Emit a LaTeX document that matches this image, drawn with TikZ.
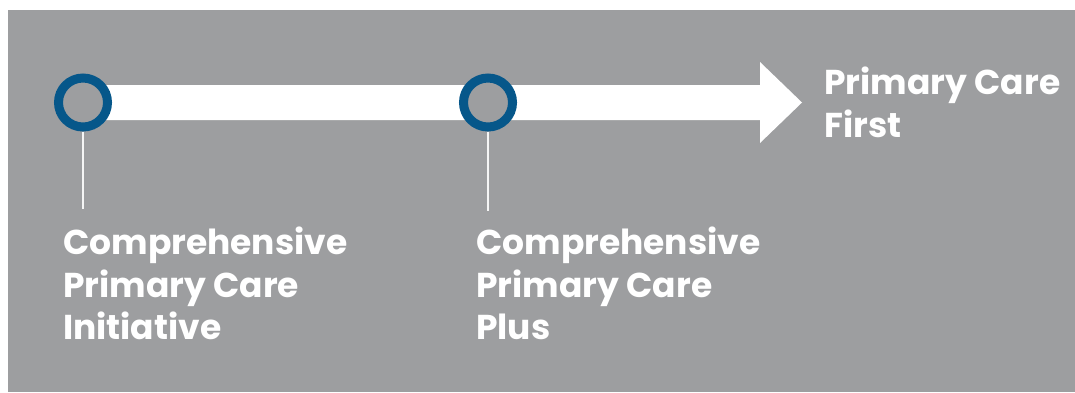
\documentclass[tikz,border=0pt]{standalone}
\usepackage{fontspec}
\setmainfont{Poppins}[UprightFont=* Bold]
\usetikzlibrary{positioning}
\definecolor{panelgray}{HTML}{9D9EA0}
\definecolor{ringblue}{HTML}{06578A}
\tikzset{
    %Define standard look of the timeline
    milestone/.style={
      circle,
      draw=ringblue, line width=9pt,
      fill=panelgray,
      minimum size=49pt,
      inner sep=0pt},
    stem/.style={
      draw=white!90!panelgray, line width=1.6pt},
    label/.style={
      text=white,
      font=\fontsize{34.5}{42.5}\selectfont,
      align=left,
      inner sep=0pt},
}

\begin{document}
\begin{tikzpicture}[x=1pt,y=-1pt]
    \useasboundingbox (0,0) rectangle (1075,392);
    \fill[panelgray] (8,10) rectangle (1075,392);
    % the white timeline arrow
    \fill[white] (83,85) -- (760,85) -- (760,62) -- (802,102.5)
          -- (760,143) -- (760,120) -- (83,120) -- cycle;
    \coordinate (tip) at (802,102.5);
    \node (cpci) [milestone] at (83,102.5) {};
    \node (cpcplus) [milestone] at (488,102.5) {};
    \coordinate (foot1) at (83,209);
    \coordinate (foot2) at (488,211);
    \draw [stem] (cpci.south) -- (foot1);
    \draw [stem] (cpcplus.south) -- (foot2);
    \node (pcf) [label, anchor=west] [right=22pt of tip]
          {Primary Care\\First};
    \node (cpcilabel) [label, anchor=north west] at (63,227)
          {Comprehensive\\Primary Care\\Initiative};
    \node (cpcpluslabel) [label, anchor=north west] at (476,227)
          {Comprehensive\\Primary Care\\Plus};
\end{tikzpicture}
\end{document}
